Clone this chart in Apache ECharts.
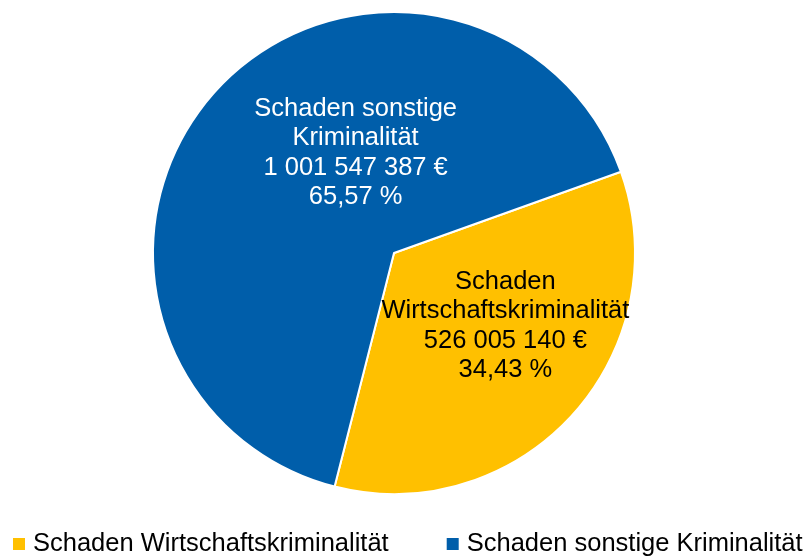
<!DOCTYPE html>
<html>
<head>
<meta charset="utf-8">
<script src="https://cdn.jsdelivr.net/npm/echarts@6/dist/echarts.min.js"></script>
<style>
  html, body { margin: 0; padding: 0; background: #fff; }
  #main { width: 811px; height: 558px; }
</style>
</head>
<body>
<div id="main"></div>
<script>
// Daten
const categories = ['Schaden Wirtschaftskriminalität', 'Schaden sonstige Kriminalität'];
const labelNames = ['Schaden\nWirtschaftskriminalität', 'Schaden sonstige\nKriminalität'];
const values = [526005140, 1001547387];
const percents = ['34,43', '65,57'];
const colors = ['#FFC000', '#005EAA'];
const labelColors = ['#000000', '#ffffff'];

function fmtEuro(v) {
  return String(v).replace(/\B(?=(\d{3})+(?!\d))/g, ' ') + ' €';
}

const chart = echarts.init(document.getElementById('main'));
const labelShift = [[20, -10], [53, -17]];

chart.setOption({
  animation: false,
  color: colors,
  legend: {
    top: 531,
    left: 13,
    padding: 0,
    icon: 'rect',
    itemWidth: 12,
    itemHeight: 12,
    itemGap: 58,
    itemStyle: { borderWidth: 0 },
    textStyle: { fontFamily: 'Liberation Sans', fontSize: 25.5, lineHeight: 26, color: '#000', padding: [0, 0, 0, 3] },
    data: categories
  },
  series: [{
    type: 'pie',
    center: [394, 253],
    radius: 241,
    startAngle: 19.7,
    clockwise: true,
    itemStyle: { borderColor: '#fff', borderWidth: 2 },
    label: {
      position: 'inside',
      fontFamily: 'Liberation Sans',
      fontSize: 25.5,
      lineHeight: 29.5,
      align: 'center',
      formatter: function (p) {
        return labelNames[p.dataIndex] + '\n' + fmtEuro(values[p.dataIndex]) + '\n' + percents[p.dataIndex] + ' %';
      }
    },
    labelLayout: function (p) {
      return { dx: labelShift[p.dataIndex][0], dy: labelShift[p.dataIndex][1] };
    },
    data: categories.map(function (c, i) {
      return { name: c, value: values[i], label: { color: labelColors[i] } };
    })
  }]
});
</script>
</body>
</html>
